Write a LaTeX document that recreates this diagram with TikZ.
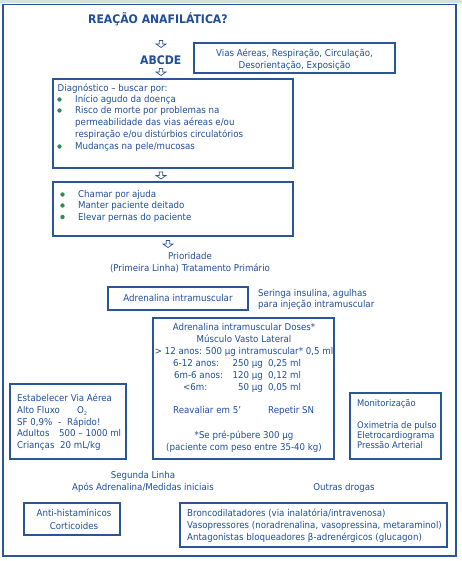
\documentclass[tikz,border=0pt]{standalone}
\usepackage{fontspec}
\setmainfont{DejaVu Sans}[FakeStretch=0.92]
\definecolor{tb}{HTML}{1F4E9A}
\definecolor{fb}{HTML}{2A5596}
\definecolor{bul}{HTML}{2E8B57}
\definecolor{band}{HTML}{D3E3DC}
\tikzset{
  txt/.style={text=tb, font=\fontsize{9.4}{12}\selectfont, inner sep=0pt},
  lt/.style={txt, anchor=base west},
  ct/.style={txt, anchor=base},
  rt/.style={txt, anchor=base east},
  sm/.style={txt, anchor=base west, font=\fontsize{9.1}{10}\selectfont},
  ttl/.style={text=tb, font=\bfseries\fontsize{11.8}{13}\selectfont, inner sep=0pt, anchor=base west},
  boxline/.style={draw=fb, line width=1.1pt},
  bull/.style={fill=bul, draw=none},
  darr/.pic={\draw[fb, line width=0.7pt, fill=white] (-1.8,-3.5) -- (1.8,-3.5) -- (1.8,0) -- (5,0) -- (0,3.5) -- (-5,0) -- (-1.8,0) -- cycle;}
}
\begin{document}
\begin{tikzpicture}[x=1pt,y=-1pt]
\useasboundingbox (0,0) rectangle (462,561);
\fill[white] (0,0) rectangle (462,561);
\fill[band] (0,0) rectangle (462,3);
\draw[fb, line width=1.8pt] (3,4.5) rectangle (456,556);

% title
\node[ttl] (title) at (88,24) {REAÇÃO ANAFILÁTICA?};
\pic at (161,44) {darr};
\node[ttl] (abcde) at (140,65) {ABCDE};
\pic at (161,72) {darr};

% Vias box
\draw[boxline] (194,43) rectangle (395,73);
\node[ct] (v1) at (294.5,56.5) {Vias Aéreas, Respiração, Circulação,};
\node[ct] (v2) at (294.5,68.5) {Desorientação, Exposição};

% Diagnostico box
\draw[boxline] (53,79) rectangle (293,168);
\node[lt] (d0) at (57.5,91.5) {Diagnóstico – buscar por:};
\fill[bull] (59.5,99.5) circle (2.2);
\node[lt] (d1) at (75,102.5) {Início agudo da doença};
\fill[bull] (59.5,110.5) circle (2.2);
\node[lt] (d2) at (75,113.8) {Risco de morte por problemas na};
\node[lt] (d3) at (75,126) {permeabilidade das vias aéreas e/ou};
\node[lt] (d4) at (75,137.5) {respiração e/ou distúrbios circulatórios};
\fill[bull] (59.5,146.5) circle (2.2);
\node[lt] (d5) at (75,149.5) {Mudanças na pele/mucosas};

\pic at (161,175.5) {darr};

% action box
\draw[boxline] (53,182) rectangle (293,236);
\fill[bull] (62.5,194.5) circle (2.2);
\node[lt] (a1) at (78,197.5) {Chamar por ajuda};
\fill[bull] (62.5,205.5) circle (2.2);
\node[lt] (a2) at (78,208.8) {Manter paciente deitado};
\fill[bull] (62.5,217) circle (2.2);
\node[lt] (a3) at (78,220.3) {Elevar pernas do paciente};

\pic at (168,244) {darr};
\node[ct] (p1) at (190,259.5) {Prioridade};
\node[ct] (p2) at (190,271.5) {(Primeira Linha) Tratamento Primário};

% adrenalina box
\draw[boxline] (108,287) rectangle (248,310);
\node[ct] (adr) at (178,301.5) {Adrenalina intramuscular};
\node[lt] (s1) at (258,296) {Seringa insulina, agulhas};
\node[lt] (s2) at (258,307) {para injeção intramuscular};

% doses box
\draw[boxline] (153,318) rectangle (334,459);
\node[ct] (o1) at (244,330.5) {Adrenalina intramuscular Doses*};
\node[ct] (o2) at (244,342.5) {Músculo Vasto Lateral};
\node[ct] (o3) at (244,354.5) {> 12 anos: 500 µg intramuscular* 0,5 ml};
\node[lt] (o4a) at (173,366.5) {6-12 anos:};
\node[rt] (o4b) at (263,366.5) {250 µg};
\node[lt] (o4c) at (268,366.5) {0,25 ml};
\node[lt] (o5a) at (174,378.5) {6m-6 anos:};
\node[rt] (o5b) at (263,378.5) {120 µg};
\node[lt] (o5c) at (268,378.5) {0,12 ml};
\node[lt] (o6a) at (183,390.5) {<6m:};
\node[rt] (o6b) at (263,390.5) {50 µg};
\node[lt] (o6c) at (268,390.5) {0,05 ml};
\node[lt] (r1) at (173,413.5) {Reavaliar em 5’};
\node[lt] (r2) at (268,413.5) {Repetir SN};
\node[ct] (q1) at (244,438.5) {*Se pré-púbere 300 µg};
\node[ct] (q2) at (244,450.5) {(paciente com peso entre 35-40 kg)};

% via aerea box
\draw[boxline] (10,384) rectangle (126,459);
\node[lt] (e1) at (17,401.5) {Estabelecer Via Aérea};
\node[lt] (e2) at (17,413.3) {Alto Fluxo};
\node[lt] (e2b) at (77,413.3) {O\raisebox{-0.4ex}{\fontsize{5}{6}\selectfont 2}};
\node[lt] (e3) at (17,425.1) {SF 0,9\%};
\node[lt] (e3b) at (58,425.1) {-};
\node[lt] (e3c) at (67,425.1) {Rápido!};
\node[lt] (e4) at (17,436.9) {Adultos};
\node[lt] (e4b) at (59,436.9) {500 – 1000 ml};
\node[lt] (e5) at (17,448.7) {Crianças};
\node[lt] (e5b) at (60,448.7) {20 mL/kg};

% monitor box
\draw[boxline] (350,393) rectangle (441,459);
\node[sm] (m1) at (357,406.5) {Monitorização};
\node[sm] (m2) at (357,428.5) {Oximetria de pulso};
\node[sm] (m3) at (357,438.5) {Eletrocardiograma};
\node[sm] (m4) at (357,448.5) {Pressão Arterial};

% second line
\node[ct] (g1) at (143,478.5) {Segunda Linha};
\node[ct] (g2) at (143,490.5) {Após Adrenalina/Medidas iniciais};
\node[ct] (g3) at (344,490.5) {Outras drogas};

\draw[boxline] (24,503) rectangle (120,535);
\node[ct] (h1) at (74,516.5) {Anti-histamínicos};
\node[ct] (h2) at (74,529) {Corticoides};

\draw[boxline] (180,503) rectangle (447,547);
\node[lt] (b1) at (187,516.5) {Broncodilatadores (via inalatória/intravenosa)};
\node[lt] (b2) at (187,528.5) {Vasopressores (noradrenalina, vasopressina, metaraminol)};
\node[lt] (b3) at (187,540.5) {Antagonistas bloqueadores β-adrenérgicos (glucagon)};
\end{tikzpicture}
\end{document}
